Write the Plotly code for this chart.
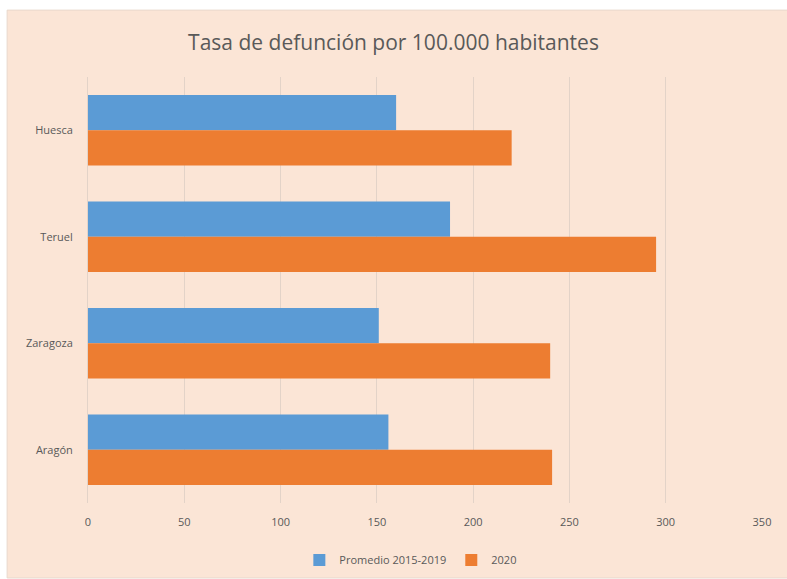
import plotly.graph_objects as go

categories = ["Huesca", "Teruel", "Zaragoza", "Aragón"]
promedio_2015_2019 = [160, 188, 151, 156]
valores_2020 = [220, 295, 240, 241]
x_ticks = [0, 50, 100, 150, 200, 250, 300, 350]

BLUE = "#5B9BD5"
ORANGE = "#ED7D31"
PEACH = "#FBE5D6"
TEXT = "#595959"
FONT = "Open Sans"

fig = go.Figure()
fig.add_trace(go.Bar(y=categories, x=promedio_2015_2019, orientation="h",
                     name="Promedio 2015-2019", marker=dict(color=BLUE, line=dict(width=0))))
fig.add_trace(go.Bar(y=categories, x=valores_2020, orientation="h",
                     name="2020", marker=dict(color=ORANGE, line=dict(width=0))))

fig.update_layout(
    width=787, height=579,
    margin=dict(l=88, r=25, t=77, b=76, autoexpand=False),
    paper_bgcolor="white",
    plot_bgcolor="rgba(0,0,0,0)",
    barmode="group",
    bargap=0.34,
    bargroupgap=0,
    title=dict(text="Tasa de defunción por 100.000 habitantes",
               x=0.5, xanchor="center", y=0.927, yanchor="middle",
               font=dict(family=FONT, size=21, color=TEXT)),
    font=dict(family=FONT, size=11, color=TEXT),
    legend=dict(orientation="h", x=0.479, xanchor="center",
                yref="container", y=0.033, yanchor="middle",
                font=dict(family=FONT, size=11, color=TEXT),
                bgcolor="rgba(0,0,0,0)", itemwidth=30, traceorder="normal"),
    xaxis=dict(range=[0, 350], tickvals=x_ticks, showgrid=True, gridcolor="#E3D3C8",
               gridwidth=1, zeroline=False, showline=False, ticks="",
               ticklabelstandoff=11,
               tickfont=dict(family=FONT, size=11, color=TEXT)),
    yaxis=dict(autorange="reversed", showgrid=False, showline=True, linecolor="#E3D3C8",
               ticks="", ticklabelstandoff=12, tickfont=dict(family=FONT, size=11, color=TEXT)),
    shapes=[dict(type="rect", xref="paper", yref="paper", layer="below",
                 x0=-0.12, x1=1.06, y0=-0.176, y1=1.157,
                 fillcolor=PEACH, line=dict(color="#E8D8CC", width=1))],
)

fig.write_html("out.html")
